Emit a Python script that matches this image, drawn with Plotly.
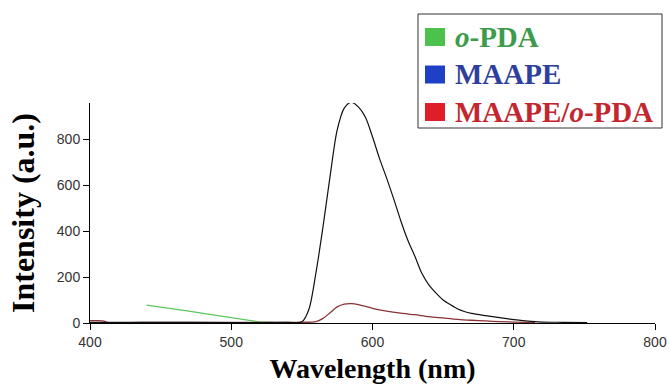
import plotly.graph_objects as go

# MAAPE (black curve)
wl_maape = [400, 440, 500, 540, 550, 555, 560, 565, 570, 575, 580, 585, 590, 595, 600,
            605, 610, 615, 620, 625, 630, 635, 640, 645, 650, 655, 660, 665, 670, 680,
            690, 700, 710, 720, 735, 752]
int_maape = [3, 3, 2, 3, 5, 60, 220, 420, 640, 840, 935, 960, 940, 895, 810,
             715, 630, 540, 445, 360, 290, 215, 165, 130, 100, 80, 62, 50, 42, 32,
             23, 15, 8, 4, 3, 2]

# MAAPE/o-PDA (red curve)
wl_mix = [400, 405, 410, 412, 450, 500, 550, 560, 565, 570, 575, 580, 585, 590, 595,
          600, 610, 620, 630, 640, 650, 660, 670, 680, 690, 700, 715]
int_mix = [10, 10, 8, 3, 3, 3, 3, 6, 20, 45, 70, 82, 84, 80, 72,
           64, 52, 43, 36, 28, 22, 16, 12, 9, 6, 4, 2]

# o-PDA (green curve)
wl_opda = [440, 450, 460, 470, 480, 490, 500, 510, 515, 520, 530, 540, 550, 556]
int_opda = [78, 70, 62, 52, 42, 33, 24, 13, 8, 5, 3, 2, 2, 2]

x_ticks = [400, 500, 600, 700, 800]
y_ticks = [0, 200, 400, 600, 800]

legend_labels = ["<b><i>o</i>-PDA</b>", "<b>MAAPE</b>", "<b>MAAPE/<i>o</i>-PDA</b>"]
legend_text_colors = ["#3c9c4c", "#2e3f9e", "#c3262e"]
legend_box_colors = ["#4cc24c", "#1f3fc4", "#e01e2a"]

fig = go.Figure()
fig.add_trace(go.Scatter(x=wl_opda, y=int_opda, mode="lines",
                         line=dict(color="#5cc85c", width=1.2)))
fig.add_trace(go.Scatter(x=wl_mix, y=int_mix, mode="lines",
                         line=dict(color="#8a3236", width=1.3, shape="spline", smoothing=0.8)))
fig.add_trace(go.Scatter(x=wl_maape, y=int_maape, mode="lines",
                         line=dict(color="#111111", width=1.2, shape="spline", smoothing=0.8)))

W, H = 669, 389
ml, mr, mt, mb = 90, 14, 103, 66
pw, ph = W - ml - mr, H - mt - mb


def px_x(p):
    return (p - ml) / pw


def px_y(p):
    return (H - mb - p) / ph


shapes = [dict(type="rect", xref="paper", yref="paper",
               x0=px_x(418), x1=px_x(662), y0=px_y(128), y1=px_y(14),
               line=dict(color="#333333", width=1), fillcolor="white", layer="above")]
annotations = []
for i, (lab, tc, bc) in enumerate(zip(legend_labels, legend_text_colors, legend_box_colors)):
    cy = 37 + i * 37.5
    shapes.append(dict(type="rect", xref="paper", yref="paper",
                       x0=px_x(425), x1=px_x(445), y0=px_y(cy + 9), y1=px_y(cy - 9),
                       line=dict(width=0), fillcolor=bc, layer="above"))
    annotations.append(dict(xref="paper", yref="paper", x=px_x(453), y=px_y(cy),
                            xanchor="left", yanchor="middle", showarrow=False,
                            text=lab, font=dict(family="Liberation Serif, Times New Roman",
                                                size=29, color=tc)))

fig.update_layout(
    width=W, height=H,
    margin=dict(l=ml, r=mr, t=mt, b=mb),
    paper_bgcolor="white", plot_bgcolor="white",
    showlegend=False,
    font=dict(family="Liberation Sans, Arial", size=14, color="#333333"),
    shapes=shapes, annotations=annotations,
    xaxis=dict(
        range=[400, 800], tickvals=x_ticks, showline=True, linecolor="black",
        linewidth=1, ticks="outside", ticklen=6, tickcolor="black",
        showgrid=False, zeroline=False, automargin=False,
        title=dict(text="<b>Wavelength (nm)</b>", standoff=9,
                   font=dict(family="Liberation Serif, Times New Roman", size=28, color="black")),
    ),
    yaxis=dict(
        range=[0, 957], tickvals=y_ticks, showline=True, linecolor="black",
        linewidth=1, ticks="outside", ticklen=6, tickcolor="black",
        showgrid=False, zeroline=False, automargin=False,
        title=dict(text="<b>Intensity (a.u.)</b>", standoff=12,
                   font=dict(family="Liberation Serif, Times New Roman", size=32, color="black")),
    ),
)

fig.write_html(
    "out.html",
    config={"displayModeBar": False},
    post_script="document.body.style.margin='0';document.body.style.overflow='hidden';",
)
